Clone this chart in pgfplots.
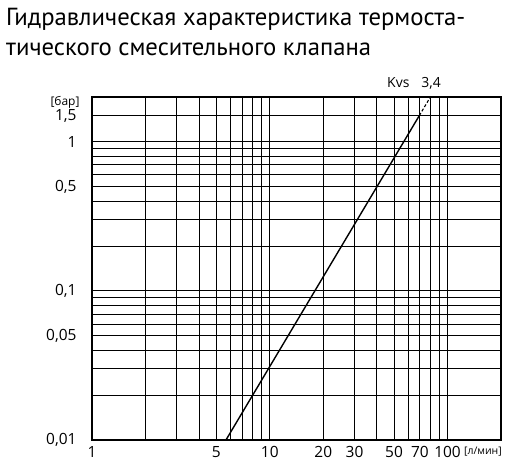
\documentclass[border=0pt]{standalone}
\usepackage{fontspec}
\setmainfont{Open Sans}
\newfontfamily\titlefont{PT Sans}
\usepackage{pgfplots}
\pgfplotsset{compat=1.18}
\begin{document}
\begin{tikzpicture}[x=1bp,y=1bp]
\path[use as bounding box] (0,0) rectangle (508,464);
\begin{axis}[
    at={(92bp,24bp)}, anchor=south west,
    scale only axis, width=409bp, height=343bp,
    xmode=log, ymode=log,
    xmin=1, xmax=200, ymin=0.01, ymax=2,
    xtick={1,5,10,20,30,50,70,100},
    xticklabels={1,5,10,20,30,50,70,100},
    minor xtick={2,3,4,6,7,8,9,40,60,80,90},
    ytick={0.01,0.05,0.1,0.5,1,1.5},
    yticklabels={{0,01},{0,05},{0,1},{0,5},{1},{1,5}},
    minor ytick={0.02,0.03,0.04,0.06,0.07,0.08,0.09,0.2,0.3,0.4,0.6,0.7,0.8,0.9},
    grid=both,
    major grid style={black, line width=1bp},
    minor grid style={black, line width=1bp},
    major tick length=0pt, minor tick length=0pt,
    axis line style={black, line width=1.2bp},
    tick label style={font=\fontsize{15.5}{18}\selectfont},
    xticklabel style={yshift=-3bp},
    yticklabel style={xshift=-12bp},
    clip=false,
]
\addplot[black, line width=1.4bp] coordinates {(5.67,0.01) (69.4,1.5)};
\addplot[black, line width=1.1bp, dash pattern=on 3bp off 2bp] coordinates {(69.4,1.5) (80.1,2)};
\end{axis}
\node[anchor=base west, inner sep=0, font=\titlefont\fontsize{24.8}{30}\selectfont] at (6,438) {Гидравлическая характеристика термоста-};
\node[anchor=base west, inner sep=0, font=\titlefont\fontsize{24.8}{30}\selectfont] at (6,408) {тического смесительного клапана};
\node[anchor=base west, inner sep=0, font=\fontsize{14}{16}\selectfont] at (387,376) {Kvs\hspace{12bp}3,4};
\node[anchor=center, inner sep=0, font=\fontsize{12}{14}\selectfont] at (65,362) {[бар]};
\node[anchor=east, inner sep=0, font=\fontsize{10.5}{13}\selectfont] at (502,12) {[л/мин]};
\end{tikzpicture}
\end{document}
